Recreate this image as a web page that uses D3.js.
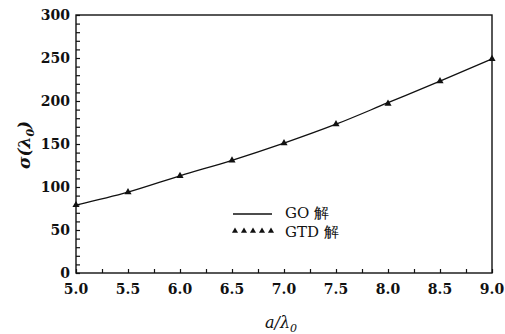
<!DOCTYPE html>
<html>
<head>
<meta charset="utf-8">
<script src="https://cdn.jsdelivr.net/npm/d3@7"></script>
<style>
  body { margin: 0; background: #fff; }
  svg text { font-family: "DejaVu Serif", "Liberation Serif", serif; fill: #111; }
</style>
</head>
<body>
<svg id="chart"></svg>
<script>
// data
var ratios = [5.0, 5.5, 6.0, 6.5, 7.0, 7.5, 8.0, 8.5, 9.0];
var goValues = [79, 94, 113, 131, 151, 173, 198, 223, 249];
var gtdValues = [79, 94, 113, 131, 151, 173, 197, 223, 249];
var xTicks = [5.0, 5.5, 6.0, 6.5, 7.0, 7.5, 8.0, 8.5, 9.0];
var yTicks = [0, 50, 100, 150, 200, 250, 300];
var legendLabels = ["GO 解", "GTD 解"];

var width = 505, height = 334;
var margin = { left: 76, right: 13, top: 15, bottom: 61 };

var svg = d3.select("svg#chart")
    .attr("width", width)
    .attr("height", height);

var x = d3.scaleLinear().domain([5, 9]).range([margin.left, width - margin.right]);
var y = d3.scaleLinear().domain([0, 300]).range([height - margin.bottom, margin.top]);

// frame
svg.append("rect")
    .attr("x", x(5)).attr("y", y(300))
    .attr("width", x(9) - x(5)).attr("height", y(0) - y(300))
    .attr("fill", "none").attr("stroke", "#111").attr("stroke-width", 1.4);

// x axis, ticks point inward
var xAxis = svg.append("g")
    .attr("transform", "translate(0," + y(0) + ")")
    .call(d3.axisBottom(x).tickValues(d3.range(5, 9.01, 0.25)).tickSizeInner(-4).tickSizeOuter(0).tickFormat(""));
xAxis.select(".domain").remove();
xAxis.selectAll("line").attr("stroke", "#111").attr("stroke-width", 1.2);

svg.append("g").selectAll("text").data(xTicks).enter()
    .append("text")
    .attr("x", function (d) { return x(d); })
    .attr("y", y(0) + 21)
    .attr("text-anchor", "middle")
    .attr("font-size", 14)
    .attr("font-weight", "bold")
    .text(function (d) { return d.toFixed(1); });

// y axis, minor ticks every 10
var yAxis = svg.append("g")
    .attr("transform", "translate(" + x(5) + ",0)")
    .call(d3.axisLeft(y).tickValues(d3.range(0, 301, 10)).tickSizeInner(-4).tickSizeOuter(0).tickFormat(""));
yAxis.select(".domain").remove();
yAxis.selectAll("line").attr("stroke", "#111").attr("stroke-width", 1.2);

svg.append("g").selectAll("text").data(yTicks).enter()
    .append("text")
    .attr("x", x(5) - 6)
    .attr("y", function (d) { return y(d) + 5; })
    .attr("text-anchor", "end")
    .attr("font-size", 14)
    .attr("font-weight", "bold")
    .text(function (d) { return d; });

// axis titles
svg.append("text")
    .attr("transform", "translate(30," + (y(150) + 1) + ") rotate(-90)")
    .attr("text-anchor", "middle")
    .attr("font-size", 17)
    .attr("font-weight", "bold")
    .attr("font-style", "italic")
    .html("σ(λ<tspan font-size='11' dy='4'>0</tspan><tspan dy='-4'>)</tspan>");

svg.append("text")
    .attr("x", 281)
    .attr("y", 328)
    .attr("text-anchor", "middle")
    .attr("font-size", 16)
    .attr("font-style", "italic")
    .html("a/λ<tspan font-size='11' dy='4'>0</tspan>");

// GO line
var line = d3.line()
    .x(function (d, i) { return x(ratios[i]); })
    .y(function (d) { return y(d); })
    .curve(d3.curveMonotoneX);

svg.append("path")
    .datum(goValues)
    .attr("d", line)
    .attr("fill", "none")
    .attr("stroke", "#111")
    .attr("stroke-width", 1.3);

// GTD triangles
var tri = d3.symbol().type(d3.symbolTriangle).size(22);
svg.append("g").selectAll("path").data(gtdValues).enter()
    .append("path")
    .attr("d", tri)
    .attr("transform", function (d, i) { return "translate(" + x(ratios[i]) + "," + y(d) + ")"; })
    .attr("fill", "#111");

// legend
var legend = svg.append("g").attr("class", "legend");
legend.append("line")
    .attr("x1", 233).attr("x2", 272)
    .attr("y1", 214).attr("y2", 214)
    .attr("stroke", "#111").attr("stroke-width", 1.3);
legend.selectAll("path").data(d3.range(5)).enter()
    .append("path")
    .attr("d", d3.symbol().type(d3.symbolTriangle).size(16))
    .attr("transform", function (d) { return "translate(" + (235 + d * 9) + ",231)"; })
    .attr("fill", "#111");
legend.selectAll("text").data(legendLabels).enter()
    .append("text")
    .attr("x", 285)
    .attr("y", function (d, i) { return 218 + i * 19; })
    .attr("font-size", 15)
    .text(function (d) { return d; });
</script>
</body>
</html>
